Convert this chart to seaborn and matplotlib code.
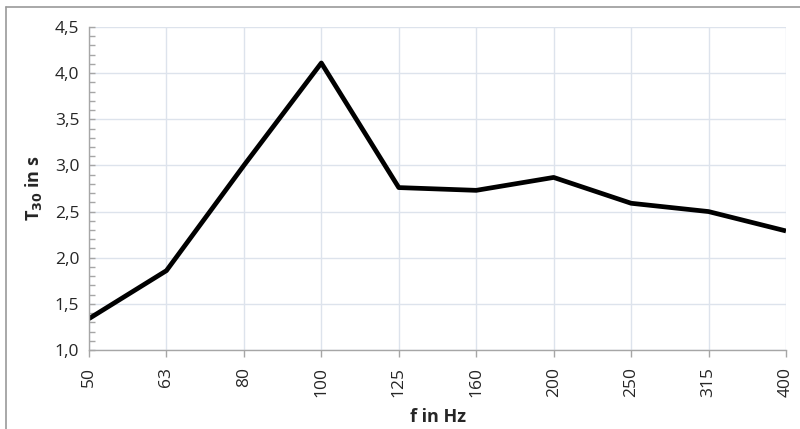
import matplotlib
matplotlib.use("Agg")
import matplotlib.pyplot as plt
from matplotlib.lines import Line2D
from matplotlib.ticker import MultipleLocator, FuncFormatter
import seaborn as sns
import pandas as pd

# Third-octave band centre frequencies and reverberation time T30
freqs = ["50", "63", "80", "100", "125", "160", "200", "250", "315", "400"]
t30 = [1.34, 1.86, 3.00, 4.11, 2.76, 2.73, 2.87, 2.59, 2.50, 2.29]

df = pd.DataFrame({"f": freqs, "T30": t30})

sns.set_theme(style="white")
plt.rcParams["font.family"] = ["Open Sans", "DejaVu Sans"]

fig = plt.figure(figsize=(8.0, 4.29), dpi=100)
ax = fig.add_axes([89 / 800, 79 / 429, 697 / 800, 323 / 429])

sns.lineplot(data=df, x="f", y="T30", ax=ax, color="black", lw=3.4,
             sort=False, solid_joinstyle="round", solid_capstyle="butt")

ax.set_xlim(0, len(freqs) - 1)
ax.set_ylim(1.0, 4.5)
ax.yaxis.set_major_locator(MultipleLocator(0.5))
ax.yaxis.set_minor_locator(MultipleLocator(0.1))
ax.yaxis.set_major_formatter(FuncFormatter(lambda v, p: f"{v:.1f}".replace(".", ",")))

grid_c = "#dde3ec"
ax.grid(True, which="major", axis="both", color=grid_c, lw=1.0)
ax.set_axisbelow(True)

for s in ["top", "right"]:
    ax.spines[s].set_visible(False)
for s in ["left", "bottom"]:
    ax.spines[s].set_color("#a6a6a6")
    ax.spines[s].set_linewidth(1.0)

ax.tick_params(axis="y", which="both", direction="in", length=4, width=1,
               color="#a6a6a6", labelsize=12.5, pad=7, left=True)
ax.tick_params(axis="x", which="major", direction="out", length=5, width=1,
               color="#a6a6a6", labelsize=12.5, pad=7, bottom=True)
for lab in ax.get_xticklabels():
    lab.set_rotation(90)
    lab.set_va("top")
    lab.set_ha("center")

ax.set_xlabel("f in Hz", fontsize=13, fontweight="bold", labelpad=8)
ax.set_ylabel("T$_{\\mathbf{30}}$ in s", fontsize=13, fontweight="bold", labelpad=8)

# chart frame
fig.add_artist(Line2D([6 / 800, 6 / 800], [0, 1 - 7 / 429], transform=fig.transFigure,
                      color="#9a9a9a", lw=1.2))
fig.add_artist(Line2D([6 / 800, 1], [1 - 7 / 429, 1 - 7 / 429], transform=fig.transFigure,
                      color="#9a9a9a", lw=1.2))

fig.savefig("out.png", dpi=100)
